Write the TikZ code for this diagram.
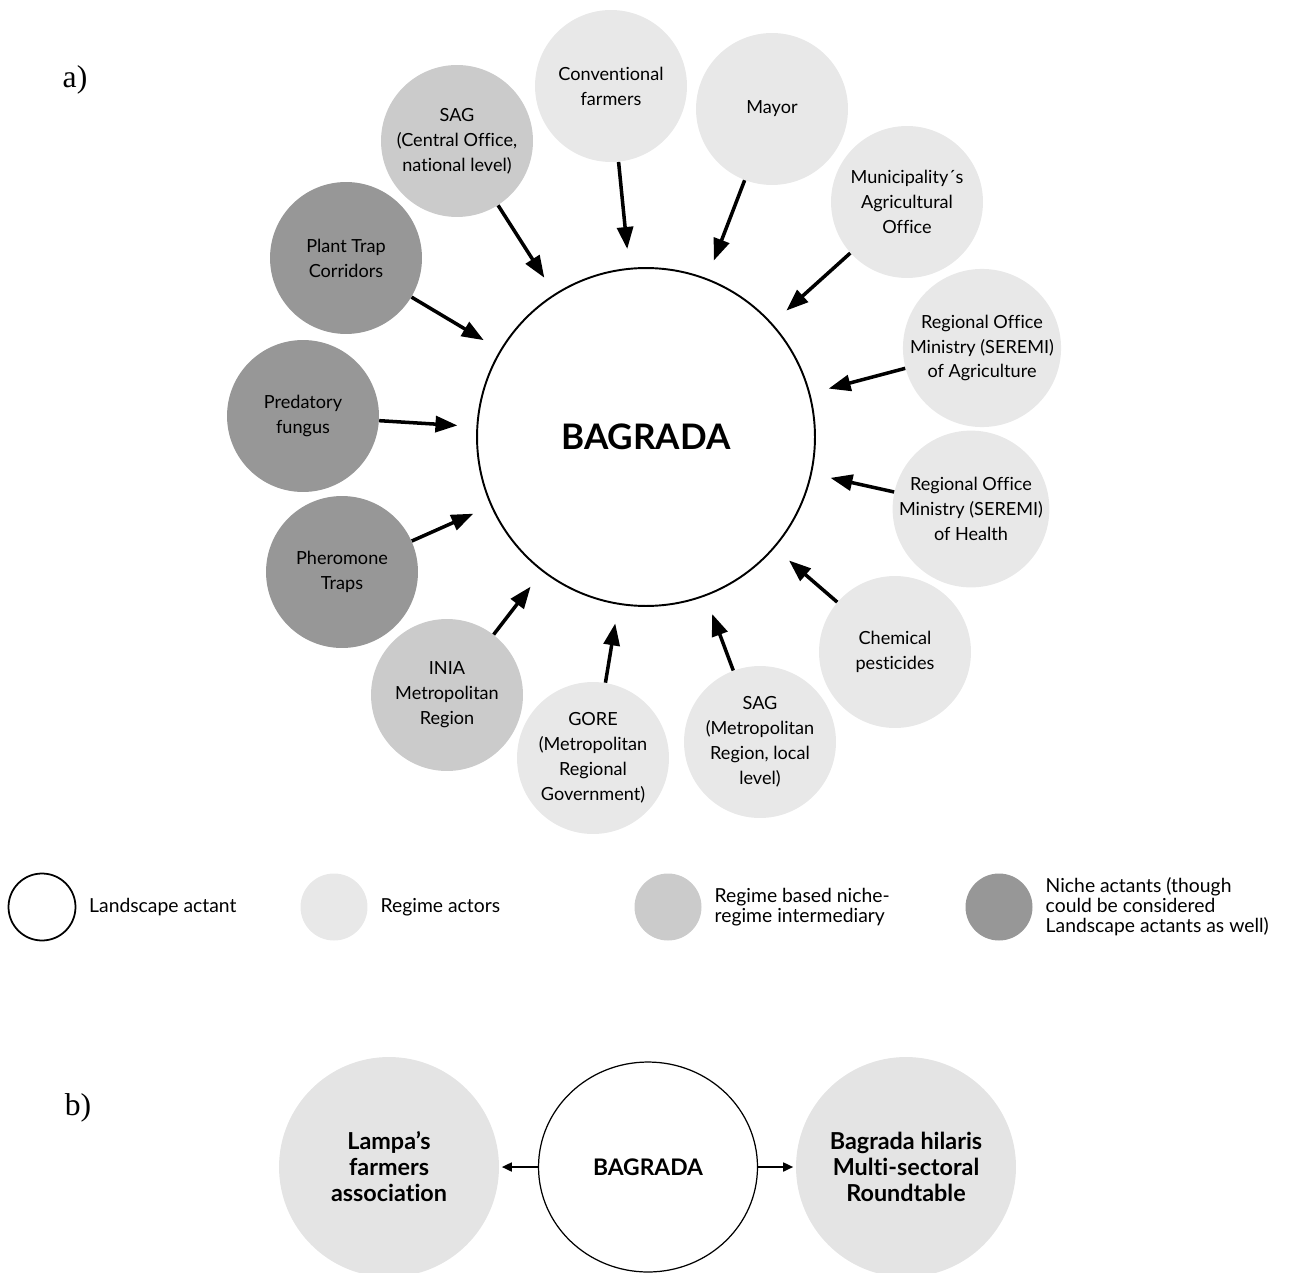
\documentclass[tikz,border=0pt]{standalone}
\usepackage{fontspec}
\setmainfont{Lato}[Ligatures=NoCommon]
\newfontfamily\labelfont{Liberation Serif}
\usetikzlibrary{arrows.meta,positioning,shapes.geometric}
\definecolor{regimegray}{HTML}{E8E8E8}
\definecolor{bridgegray}{HTML}{CBCBCB}
\definecolor{nichegray}{HTML}{979797}
\definecolor{tablegray}{HTML}{E4E4E4}
\tikzset{
  actor/.style={circle, fill=regimegray, minimum size=3.04cm, inner sep=0pt,
    align=center, font=\fontsize{10.3}{14.2}\selectfont},
  bridge/.style={actor, fill=bridgegray},
  niche/.style={actor, fill=nichegray},
  link/.style={line width=2pt, -{Triangle[length=0.44cm,width=0.32cm]},
    shorten >=0.38cm},
  smalllink/.style={line width=1pt, -{Triangle[length=0.2cm,width=0.18cm]},
    shorten >=0.05cm},
  keydot/.style={circle, minimum size=1.34cm, inner sep=0pt},
  keytext/.style={right=0.25cm of #1, inner sep=0pt, align=left,
    font=\fontsize{11}{11.4}\selectfont}
}
\begin{document}
\begin{tikzpicture}[x=0.02cm, y=-0.02cm]
  \useasboundingbox (0,0) rectangle (1290,1273);
  \clip (0,0) rectangle (1290,1273);
  % part a
  \node[font=\labelfont\fontsize{18}{20}\selectfont] (parta) at (75,80) {a)};
  \node[draw, circle, line width=1.1pt, minimum size=6.76cm,
    font=\fontsize{20}{24}\selectfont\bfseries] (bagrada) at (646,437) {BAGRADA};
  \draw
    (457,141) node[bridge] (sagc) {SAG\\(Central Office,\\national level)}
    (611,86) node[actor] (farmers) {Conventional\\farmers}
    (772,109) node[actor] (mayor) {Mayor}
    (907,202) node[actor] (muni) {Municipality´s\\Agricultural\\Office}
    (982,348) node[actor] (seremiag) {Regional Office\\Ministry (SEREMI)\\of Agriculture}
    (971,509) node[actor] (seremih) {Regional Office\\Ministry (SEREMI)\\of Health}
    (895,652) node[actor] (chem) {Chemical\\pesticides}
    (760,742) node[actor] (sagm) {SAG\\(Metropolitan\\Region, local\\level)}
    (593,758) node[actor] (gore) {GORE\\(Metropolitan\\Regional\\Government)}
    (447,695) node[bridge] (inia) {INIA\\Metropolitan\\Region}
    (342,572) node[niche] (phero) {Pheromone\\Traps}
    (303,416) node[niche] (fungus) {Predatory\\fungus}
    (346,258) node[niche] (corridor) {Plant Trap\\Corridors};
  \begin{scope}
    \draw[link] (sagc) to (bagrada);
    \draw[link] (farmers) to (bagrada);
    \draw[link] (mayor) to (bagrada);
    \draw[link] (muni) to (bagrada);
    \draw[link] (seremiag) to (bagrada);
    \draw[link] (seremih) to (bagrada);
    \draw[link] (chem) to (bagrada);
    \draw[link] (sagm) to (bagrada);
    \draw[link] (gore) to (bagrada);
    \draw[link] (inia) to (bagrada);
    \draw[link] (phero) to (bagrada);
    \draw[link] (fungus) to (bagrada);
    \draw[link] (corridor) to (bagrada);
  \end{scope}
  % legend
  \node[keydot, draw, line width=1pt] (keyland) at (42,907) {};
  \node[keytext=keyland] (keylandtext) {Landscape actant};
  \node[keydot, fill=regimegray] (keyregime) at (334,907) {};
  \node[keytext=keyregime] (keyregimetext) {Regime actors};
  \node[keydot, fill=bridgegray] (keybridge) at (668,907) {};
  \node[keytext=keybridge] (keybridgetext) {Regime based niche-\\regime intermediary};
  \node[keydot, fill=nichegray] (keyniche) at (999,907) {};
  \node[keytext=keyniche] (keynichetext) {Niche actants (though\\could be considered\\Landscape actants as well)};
  % part b
  \node[font=\labelfont\fontsize{18}{20}\selectfont] (partb) at (78,1108) {b)};
  \node[actor, fill=tablegray, minimum size=4.4cm,
    font=\fontsize{13.3}{14.8}\selectfont\bfseries] (lampa) at (389,1167)
    {Lampa’s\\farmers\\association};
  \node[draw, ellipse, line width=0.7pt, minimum width=4.38cm, minimum height=4.2cm,
    font=\fontsize{13}{15}\selectfont\bfseries] (bagradab) at (648,1167) {BAGRADA};
  \node[actor, fill=tablegray, minimum size=4.4cm,
    font=\fontsize{13.3}{14.8}\selectfont\bfseries] (roundtable) at (906,1167)
    {Bagrada hilaris\\Multi-sectoral\\Roundtable};
  \draw[smalllink] (bagradab) to (lampa);
  \draw[smalllink] (bagradab) to (roundtable);
\end{tikzpicture}
\end{document}
